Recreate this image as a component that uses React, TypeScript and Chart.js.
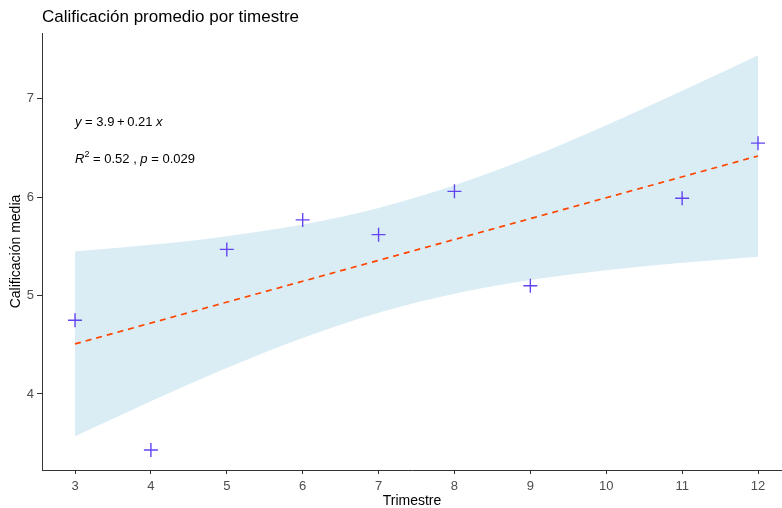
import React, { useEffect, useRef } from "react";
import { Chart, registerables } from "chart.js";

Chart.register(...registerables);

// ---- data ----
const trimestres = [3, 4, 5, 6, 7, 8, 9, 11, 12];
const calificaciones = [4.75, 3.43, 5.47, 5.77, 5.62, 6.06, 5.1, 5.99, 6.55];

const bandX = [3, 4, 5, 6, 7, 8, 9, 10, 11, 12];
const bandUpper = [5.449, 5.516, 5.604, 5.723, 5.891, 6.122, 6.407, 6.733, 7.082, 7.445];
const bandLower = [3.569, 3.926, 4.264, 4.569, 4.825, 5.02, 5.159, 5.259, 5.334, 5.395];

const fitX = [3, 12];
const fitY = [4.509, 6.42];

const xTicks = [3, 4, 5, 6, 7, 8, 9, 10, 11, 12];
const yTicks = [4, 5, 6, 7];

const titleText = "Calificación promedio por timestre";
const xTitle = "Trimestre";
const yTitle = "Calificación media";

const eqLabelPos = { x: 3, y: 6.76 };
const statLabelPos = { x: 3, y: 6.38 };

const FONT = "'Liberation Sans', Arial, Helvetica, sans-serif";

type Part = { t: string; i?: boolean; sup?: boolean };

function drawRich(ctx: CanvasRenderingContext2D, x: number, y: number, parts: Part[], size: number) {
  let cx = x;
  for (const p of parts) {
    const fs = p.sup ? Math.round(size * 0.7) : size;
    ctx.font = `${p.i ? "italic " : ""}${fs}px ${FONT}`;
    ctx.fillText(p.t, cx, p.sup ? y - size * 0.4 : y);
    cx += ctx.measureText(p.t).width;
  }
}

const textPlugin = {
  id: "textPlugin",
  afterDraw(chart: any) {
    const ctx: CanvasRenderingContext2D = chart.ctx;
    const xs = chart.scales.x;
    const ys = chart.scales.y;
    ctx.save();
    ctx.fillStyle = "#000";
    ctx.textBaseline = "middle";
    ctx.textAlign = "left";
    ctx.font = `17px ${FONT}`;
    ctx.fillText(titleText, chart.chartArea.left, 17);

    drawRich(
      ctx,
      xs.getPixelForValue(eqLabelPos.x),
      ys.getPixelForValue(eqLabelPos.y),
      [{ t: "y", i: true }, { t: " = 3.9\u2009+\u20090.21 " }, { t: "x", i: true }],
      13
    );
    drawRich(
      ctx,
      xs.getPixelForValue(statLabelPos.x),
      ys.getPixelForValue(statLabelPos.y),
      [
        { t: "R", i: true },
        { t: "2", sup: true },
        { t: " = 0.52 , " },
        { t: "p", i: true },
        { t: " = 0.029" },
      ],
      13
    );
    ctx.restore();
  },
};

export default function App() {
  const ref = useRef<HTMLCanvasElement | null>(null);

  useEffect(() => {
    document.body.style.margin = "0";
    if (!ref.current) return;
    Chart.defaults.font.family = FONT;

    const chart = new Chart(ref.current, {
      type: "line",
      data: {
        datasets: [
          {
            label: "puntos",
            data: trimestres.map((x, i) => ({ x, y: calificaciones[i] })),
            showLine: false,
            pointStyle: "cross",
            pointRadius: 7,
            pointBorderWidth: 1.4,
            pointBorderColor: "#6344F2",
            pointBackgroundColor: "#6344F2",
            borderColor: "#6344F2",
            order: 0,
          } as any,
          {
            label: "ajuste",
            data: fitX.map((x, i) => ({ x, y: fitY[i] })),
            borderColor: "#FF4500",
            borderWidth: 1.7,
            borderDash: [6, 5],
            pointRadius: 0,
            fill: false,
            order: 1,
          },
          {
            label: "sup",
            data: bandX.map((x, i) => ({ x, y: bandUpper[i] })),
            borderWidth: 0,
            borderColor: "rgba(0,0,0,0)",
            pointRadius: 0,
            backgroundColor: "rgba(173,216,230,0.45)",
            fill: "+1",
            cubicInterpolationMode: "monotone",
            order: 2,
          },
          {
            label: "inf",
            data: bandX.map((x, i) => ({ x, y: bandLower[i] })),
            borderWidth: 0,
            borderColor: "rgba(0,0,0,0)",
            pointRadius: 0,
            fill: false,
            cubicInterpolationMode: "monotone",
            order: 3,
          },
        ],
      },
      options: {
        animation: false,
        responsive: false,
        devicePixelRatio: 1,
        layout: { autoPadding: false, padding: { top: 33, right: 0, left: 0, bottom: 0 } },
        plugins: {
          legend: { display: false },
          tooltip: { enabled: false },
          title: { display: false },
        },
        scales: {
          x: {
            type: "linear",
            min: 2.565,
            max: 12.316,
            afterBuildTicks: (axis: any) => {
              axis.ticks = xTicks.map((v) => ({ value: v }));
            },
            afterFit: (scale: any) => {
              scale.height = 38;
              scale.paddingLeft = 0;
              scale.paddingRight = 0;
            },
            grid: {
              display: true,
              drawOnChartArea: false,
              drawTicks: true,
              tickLength: 4,
              color: "#333",
            },
            border: { display: true, color: "#333", width: 1 },
            ticks: {
              color: "#4D4D4D",
              font: { size: 13 },
              padding: 5,
              maxRotation: 0,
              autoSkip: false,
            },
            title: {
              display: true,
              text: xTitle,
              color: "#000",
              font: { size: 14 },
              padding: { top: 0, bottom: -2 },
            },
          },
          y: {
            type: "linear",
            min: 3.227,
            max: 7.67,
            afterBuildTicks: (axis: any) => {
              axis.ticks = yTicks.map((v) => ({ value: v }));
            },
            afterFit: (scale: any) => {
              scale.width = 42;
              scale.paddingTop = 0;
              scale.paddingBottom = 0;
            },
            grid: {
              display: true,
              drawOnChartArea: false,
              drawTicks: true,
              tickLength: 5,
              color: "#333",
            },
            border: { display: true, color: "#333", width: 1 },
            ticks: {
              color: "#4D4D4D",
              font: { size: 13 },
              padding: 3,
              autoSkip: false,
            },
            title: {
              display: true,
              text: yTitle,
              color: "#000",
              font: { size: 14 },
              padding: { top: 8, bottom: 0 },
            },
          },
        },
      },
      plugins: [textPlugin],
    });

    return () => chart.destroy();
  }, []);

  return (
    <div style={{ width: 782, height: 508 }}>
      <canvas ref={ref} width={782} height={508} style={{ display: "block" }} />
    </div>
  );
}
